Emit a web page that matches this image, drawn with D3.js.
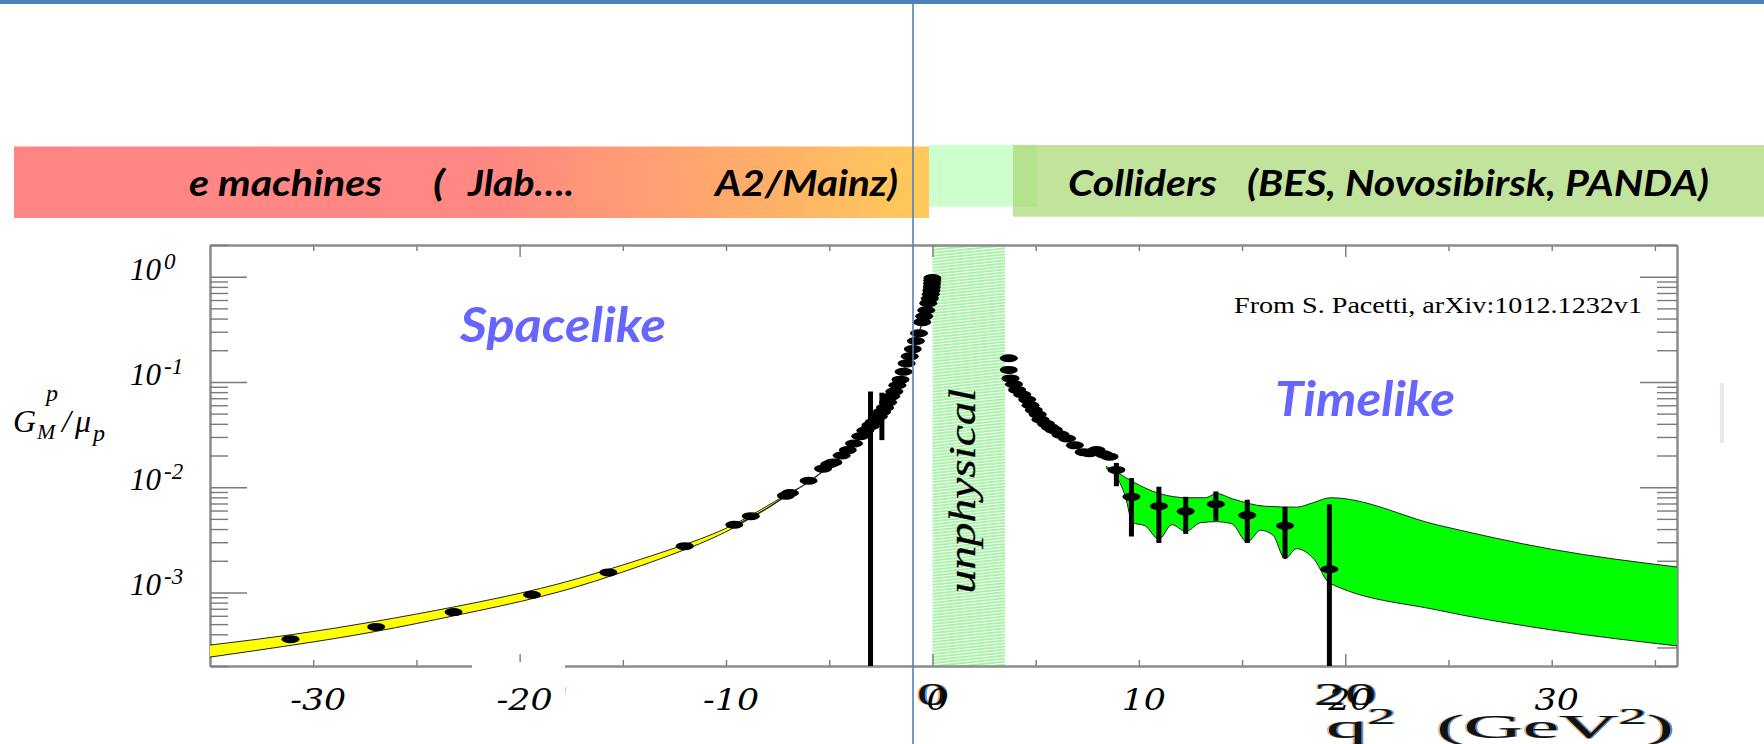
<!DOCTYPE html>
<html>
<head>
<meta charset="utf-8">
<script src="https://cdn.jsdelivr.net/npm/d3@7"></script>
<style>
  html, body { margin: 0; padding: 0; background: #fff; }
  svg { display: block; }
</style>
</head>
<body>
<svg id="chart" width="1764" height="744"></svg>
<script>
// ---------------- data ----------------
// x axis (q^2 in GeV^2)
const xTickValues = [-35, -30, -25, -20, -15, -10, -5, 0, 5, 10, 15, 20, 25, 30, 35];
const xMajorTickValues = [-20, 0, 20];
const xLabelValues = [-30, -20, -10, 0, 10, 20, 30];
const xLabelTexts = ["-30", "-20", "-10", "0", "10", "20", "30"];
const xPlotLabelValues = [0, 20];
const xPlotLabelTexts = ["0", "20"];
// y axis decades (G_M^p / mu_p)
const yDecadeValues = [1, 0.1, 0.01, 0.001];
const yDecadeExponents = ["0", "-1", "-2", "-3"];
// unphysical region 0 < q^2 < 4 M_p^2
const unphysicalRange = [0, 3.52];

// spacelike fit band (yellow)
const spaceBandQ2 = [-35, -31, -27, -23, -19, -15.5, -12, -9.5, -7];
const spaceBandHi = [3.16e-4, 3.98e-4, 5.3e-4, 7.4e-4, 1.09e-3, 1.7e-3, 2.85e-3, 4.55e-3, 8.7e-3];
const spaceBandLo = [2.43e-4, 3.16e-4, 4.25e-4, 6.1e-4, 9.1e-4, 1.45e-3, 2.55e-3, 4.25e-3, 8.4e-3];
// spacelike central fit
const spaceFitQ2 = [-9.5, -8, -7, -6, -5, -4, -3, -2.5, -2, -1.5, -1, -0.6, -0.3, -0.1, 0];
const spaceFitG = [4.4e-3, 6.31e-3, 8.51e-3, 1.12e-2, 1.58e-2, 2.29e-2, 3.72e-2, 5.01e-2, 7.41e-2, 0.115, 0.200, 0.316, 0.501, 0.708, 1.0];
// spacelike measurements
const spaceQ2 = [-31.1, -26.95, -23.2, -19.4, -15.7, -12.0, -9.6, -8.8, -7.1, -6.9, -6.0, -5.3, -5.0, -4.8, -4.4, -4.1,
  -3.8, -3.5, -3.25, -3.0, -2.85, -2.6, -2.45, -2.3, -2.15, -2.0, -1.85, -1.7, -1.55, -1.4, -1.25, -1.1, -0.95, -0.8,
  -0.65, -0.5, -0.4, -0.3, -0.2, -0.13, -0.08, -0.05, -0.03, -0.02, -0.01, -0.005];
const spaceG = [3.6e-4, 4.7e-4, 6.5e-4, 9.5e-4, 1.55e-3, 2.75e-3, 4.4e-3, 5.3e-3, 8.3e-3, 8.8e-3, 1.15e-2, 1.5e-2, 1.65e-2,
  1.72e-2, 2.0e-2, 2.25e-2, 2.6e-2, 3.05e-2, 3.45e-2, 3.8e-2, 4.15e-2, 4.7e-2, 5.2e-2, 5.7e-2, 6.4e-2, 7.3e-2, 8.1e-2,
  9.3e-2, 0.105, 0.125, 0.150, 0.175, 0.205, 0.245, 0.29, 0.37, 0.42, 0.48, 0.56, 0.62, 0.68, 0.74, 0.80, 0.86, 0.92, 0.97];
// spacelike points with large errors
const spaceErrQ2 = [-3.0, -2.45];
const spaceErrG = [3.9e-2, 5.2e-2];
const spaceErrHi = [8.1e-2, 7.9e-2];
const spaceErrLo = [1e-5, 2.8e-2];

// timelike measurements near threshold
const timeQ2 = [3.70, 3.70, 3.78, 3.95, 4.10, 4.35, 4.59, 4.75, 4.91, 5.10, 5.23, 5.50, 5.70, 5.88, 6.2, 6.52, 6.9, 7.33,
  7.6, 7.95, 8.3, 8.58];
const timeG = [0.168, 0.130, 0.108, 0.095, 0.084, 0.076, 0.068, 0.060, 0.054, 0.049, 0.044, 0.040, 0.037, 0.035, 0.0316,
  0.029, 0.025, 0.0215, 0.021, 0.0225, 0.0205, 0.0195];
// timelike measurements with error bars
const timeErrQ2 = [8.91, 9.64, 10.97, 12.27, 13.73, 15.25, 17.08, 19.23];
const timeErrG = [0.0146, 8.1e-3, 6.6e-3, 5.9e-3, 6.9e-3, 5.4e-3, 4.3e-3, 1.66e-3];
const timeErrHi = [0.017, 0.0122, 0.0101, 8.1e-3, 9.1e-3, 7.6e-3, 6.5e-3, 6.9e-3];
const timeErrLo = [0.0102, 3.4e-3, 2.95e-3, 3.6e-3, 4.8e-3, 2.95e-3, 2.1e-3, 1e-5];
// timelike fit band (green)
const timeBandUpQ2 = [8.4, 9.0, 9.69, 11.0, 12.34, 13.22, 13.76, 14.53, 16.09, 17.64, 18.41, 19.28, 24.47, 30.0, 36.1];
const timeBandUp = [0.0158, 0.0136, 0.0113, 8.7e-3, 7.94e-3, 7.94e-3, 8.7e-3, 7.76e-3, 6.6e-3, 6.46e-3, 7.08e-3, 7.94e-3,
  4.37e-3, 2.57e-3, 1.74e-3];
const timeBandLoQ2 = [8.4, 9.0, 9.35, 9.69, 10.3, 10.97, 11.6, 12.27, 13.0, 13.73, 14.5, 15.25, 15.9, 16.5, 17.08, 17.64,
  18.5, 19.23, 24.47, 30.0, 36.1];
const timeBandLo = [0.0151, 0.0118, 8.1e-3, 4.6e-3, 4.3e-3, 3.2e-3, 4.4e-3, 3.8e-3, 4.6e-3, 4.7e-3, 4.5e-3, 3.0e-3, 3.9e-3,
  3.5e-3, 2.1e-3, 2.6e-3, 2.05e-3, 1.23e-3, 6.8e-4, 4.4e-4, 3.1e-4];

// ---------------- drawing ----------------
const svg = d3.select("#chart");
const W = 1764, H = 744;
const plot = { left: 210, right: 1677, top: 245, bottom: 666 };

const x = d3.scaleLinear().domain([-35, 36.07]).range([plot.left, plot.right]);
const y = d3.scaleLog().domain([2e-4, 2]).range([plot.bottom, plot.top]);

const defs = svg.append("defs");
defs.append("clipPath").attr("id", "plotClip")
  .append("rect").attr("x", plot.left).attr("y", plot.top)
  .attr("width", plot.right - plot.left).attr("height", plot.bottom - plot.top);

const grad = defs.append("linearGradient").attr("id", "redBand")
  .attr("gradientUnits", "userSpaceOnUse").attr("x1", 14).attr("x2", 929).attr("y1", 0).attr("y2", 0);
[[0, "#FF8585"], [0.53, "#FF8882"], [0.675, "#FF9C75"], [0.83, "#FFB068"], [0.97, "#FFC75C"], [1, "#FFCA5A"]]
  .forEach(([o, c]) => grad.append("stop").attr("offset", o).attr("stop-color", c));

const hatch = defs.append("pattern").attr("id", "hatch").attr("patternUnits", "userSpaceOnUse")
  .attr("width", 40).attr("height", 3).attr("patternTransform", "rotate(-6)");
hatch.append("line").attr("x1", 0).attr("x2", 40).attr("y1", 1).attr("y2", 1)
  .attr("stroke", "#4FEA4F").attr("stroke-width", 1.2);

svg.append("rect").attr("width", W).attr("height", H).attr("fill", "#fff");

// slide header rule
svg.append("rect").attr("x", 0).attr("y", 0).attr("width", W).attr("height", 4).attr("fill", "#4F81BD");

// header bands
svg.append("rect").attr("x", 14).attr("y", 146.5).attr("width", 915).attr("height", 71.5).attr("fill", "url(#redBand)");
svg.append("rect").attr("x", 929).attr("y", 145).attr("width", 108).attr("height", 61.7).attr("fill", "#CCFFCC");
svg.append("rect").attr("x", 1013).attr("y", 145).attr("width", W - 1013).attr("height", 71.7)
  .attr("fill", "rgb(168,215,112)").attr("fill-opacity", 0.7);

const headFont = "Lato, 'Open Sans', sans-serif";
function headText(str, x0, len) {
  svg.append("text").attr("x", x0).attr("y", 196).text(str)
    .attr("font-family", headFont).attr("font-weight", 700).attr("font-style", "italic")
    .attr("font-size", 36).attr("fill", "#000")
    .attr("textLength", len).attr("lengthAdjust", "spacingAndGlyphs");
}
headText("e machines", 189, 193);
headText("(", 433, 12);
headText("Jlab….", 468, 106);
headText("A2/Mainz)", 715, 183);
headText("Colliders", 1068, 149);
headText("(BES, Novosibirsk, PANDA)", 1247, 462);

// unphysical region
svg.append("rect")
  .attr("x", x(unphysicalRange[0])).attr("y", plot.top)
  .attr("width", x(unphysicalRange[1]) - x(unphysicalRange[0])).attr("height", plot.bottom - plot.top)
  .attr("fill", "url(#hatch)");

// axes
const frameColor = "#8c8c8c";
const majorY = yDecadeValues.concat([]);
const minorY = y.ticks().filter(v => {
  const m = v / Math.pow(10, Math.floor(Math.log10(v) + 1e-9));
  return Math.abs(m - 1) > 1e-6;
});
function styleAxis(g) {
  g.selectAll(".domain").attr("stroke", frameColor).attr("stroke-width", 2);
  g.selectAll(".tick line").attr("stroke", "#7a7a7a").attr("stroke-width", 1.4);
  g.selectAll(".tick text").remove();
}
const xMinor = xTickValues.filter(v => !xMajorTickValues.includes(v));
svg.append("g").attr("transform", `translate(0,${plot.bottom})`)
  .call(d3.axisBottom(x).tickValues(xMinor).tickSize(-6).tickSizeOuter(0).tickFormat("")).call(styleAxis);
svg.append("g").attr("transform", `translate(0,${plot.bottom})`)
  .call(d3.axisBottom(x).tickValues(xMajorTickValues).tickSize(-12).tickSizeOuter(0).tickFormat("")).call(styleAxis);
svg.append("g").attr("transform", `translate(0,${plot.top})`)
  .call(d3.axisTop(x).tickValues(xMinor).tickSize(-6).tickSizeOuter(0).tickFormat("")).call(styleAxis);
svg.append("g").attr("transform", `translate(0,${plot.top})`)
  .call(d3.axisTop(x).tickValues(xMajorTickValues).tickSize(-12).tickSizeOuter(0).tickFormat("")).call(styleAxis);
svg.append("g").attr("transform", `translate(${plot.left},0)`)
  .call(d3.axisLeft(y).tickValues(majorY).tickSize(-37).tickSizeOuter(0).tickFormat("")).call(styleAxis);
svg.append("g").attr("transform", `translate(${plot.left},0)`)
  .call(d3.axisLeft(y).tickValues(minorY).tickSize(-18).tickSizeOuter(0).tickFormat("")).call(styleAxis);
svg.append("g").attr("transform", `translate(${plot.right},0)`)
  .call(d3.axisRight(y).tickValues(majorY).tickSize(-37).tickSizeOuter(0).tickFormat("")).call(styleAxis);
svg.append("g").attr("transform", `translate(${plot.right},0)`)
  .call(d3.axisRight(y).tickValues(minorY).tickSize(-20).tickSizeOuter(0).tickFormat("")).call(styleAxis);

// data layer
const layer = svg.append("g").attr("clip-path", "url(#plotClip)");
const lineGen = d3.line().x(d => x(d[0])).y(d => y(d[1])).curve(d3.curveMonotoneX);
const smoothGen = d3.line().x(d => x(d[0])).y(d => y(d[1])).curve(d3.curveNatural);
const zip = (a, b) => a.map((v, i) => [v, b[i]]);

function bandPath(gen, upQ, upV, loQ, loV) {
  const upper = gen(zip(upQ, upV));
  const lowerRev = gen(zip(loQ, loV).reverse());
  return upper + "L" + lowerRev.slice(1) + "Z";
}

// spacelike band
layer.append("path")
  .attr("d", bandPath(smoothGen, spaceBandQ2, spaceBandHi, spaceBandQ2, spaceBandLo))
  .attr("fill", "#FFFF00").attr("stroke", "none");
[spaceBandHi, spaceBandLo].forEach(arr => layer.append("path")
  .attr("d", smoothGen(zip(spaceBandQ2, arr))).attr("fill", "none").attr("stroke", "#222").attr("stroke-width", 1));
layer.append("path").attr("d", lineGen(zip(spaceFitQ2, spaceFitG)))
  .attr("fill", "none").attr("stroke", "#222").attr("stroke-width", 1.2);

// timelike band
layer.append("path")
  .attr("d", bandPath(lineGen, timeBandUpQ2, timeBandUp, timeBandLoQ2, timeBandLo))
  .attr("fill", "#00FF00").attr("stroke", "none");
layer.append("path").attr("d", lineGen(zip(timeBandUpQ2, timeBandUp)))
  .attr("fill", "none").attr("stroke", "#222").attr("stroke-width", 1);
layer.append("path").attr("d", lineGen(zip(timeBandLoQ2, timeBandLo)))
  .attr("fill", "none").attr("stroke", "#222").attr("stroke-width", 1);

// error bars
function errBars(q, hi, lo) {
  layer.selectAll(null).data(q.map((v, i) => ({ q: v, hi: hi[i], lo: lo[i] }))).enter()
    .append("line")
    .attr("x1", d => x(d.q)).attr("x2", d => x(d.q))
    .attr("y1", d => y(d.hi)).attr("y2", d => y(d.lo))
    .attr("stroke", "#000").attr("stroke-width", 5);
}
errBars(spaceErrQ2, spaceErrHi, spaceErrLo);
errBars(timeErrQ2, timeErrHi, timeErrLo);

// markers
function markers(q, g) {
  layer.selectAll(null).data(zip(q, g)).enter().append("ellipse")
    .attr("cx", d => x(d[0])).attr("cy", d => y(d[1]))
    .attr("rx", 9).attr("ry", 4).attr("fill", "#000");
}
markers(spaceQ2, spaceG);
markers(spaceErrQ2, spaceErrG);
markers(timeQ2, timeG);
markers(timeErrQ2, timeErrG);

// annotations inside the frame
const serif = "'Liberation Serif', 'DejaVu Serif', serif";
const unphysX = x((unphysicalRange[0] + unphysicalRange[1]) / 2) + 6;
svg.append("text").attr("transform", `translate(${unphysX},491) rotate(-90)`)
  .attr("text-anchor", "middle").attr("font-family", serif)
  .attr("font-style", "italic").attr("font-size", 37).attr("fill", "#000")
  .attr("stroke", "#000").attr("stroke-width", 0.3)
  .attr("textLength", 205).attr("lengthAdjust", "spacingAndGlyphs").text("unphysical");

svg.append("text").attr("x", 460).attr("y", 342).text("Spacelike")
  .attr("font-family", headFont).attr("font-weight", 700).attr("font-style", "italic")
  .attr("font-size", 48).attr("fill", "#6666FF").attr("textLength", 206).attr("lengthAdjust", "spacingAndGlyphs");
svg.append("text").attr("x", 1275).attr("y", 416).text("Timelike")
  .attr("font-family", headFont).attr("font-weight", 700).attr("font-style", "italic")
  .attr("font-size", 48).attr("fill", "#6666FF").attr("textLength", 180).attr("lengthAdjust", "spacingAndGlyphs");

svg.append("text").attr("x", 1234).attr("y", 313).text("From S. Pacetti, arXiv:1012.1232v1")
  .attr("font-family", serif).attr("font-size", 23).attr("fill", "#000")
  .attr("textLength", 408).attr("lengthAdjust", "spacingAndGlyphs");

// y axis decade labels
yDecadeValues.forEach((v, i) => {
  const t = svg.append("text").attr("x", 130).attr("y", y(v) + 3)
    .attr("font-family", serif).attr("font-style", "italic").attr("font-size", 31).attr("fill", "#000");
  t.append("tspan").text("10");
  t.append("tspan").attr("dx", 3).attr("dy", -11).attr("font-size", 23).text(yDecadeExponents[i]);
});

// y axis title: G_M^p / mu_p
const ttl = svg.append("g").attr("font-family", serif).attr("font-style", "italic").attr("fill", "#000");
ttl.append("text").attr("x", 13).attr("y", 432).attr("font-size", 32).text("G");
ttl.append("text").attr("x", 37).attr("y", 439).attr("font-size", 22).text("M");
ttl.append("text").attr("x", 46).attr("y", 401).attr("font-size", 24).text("p");
ttl.append("text").attr("x", 62).attr("y", 432).attr("font-size", 32).text("/");
ttl.append("text").attr("x", 75).attr("y", 432).attr("font-size", 32).text("μ");
ttl.append("text").attr("x", 93).attr("y", 441).attr("font-size", 24).text("p");

// patch over the original -20 label
svg.append("rect").attr("x", 472).attr("y", 662).attr("width", 93).attr("height", 52).attr("fill", "#fff");
svg.append("line").attr("x1", 565.5).attr("x2", 565.5).attr("y1", 687).attr("y2", 694)
  .attr("stroke", "#9FE4F5").attr("stroke-width", 1);

// original plot labels (stretched upright serif with colour fringes)
function fringedText(str, cx, base, size, sx) {
  const g = svg.append("g").attr("transform", `translate(${cx},${base}) scale(${sx},1)`);
  [[-0.8, "#E39A4A", 0.8], [0.8, "#2F6FD0", 0.8], [0, "#111", 1]].forEach(([dx, c, o]) => {
    g.append("text").attr("x", dx).attr("text-anchor", "middle")
      .attr("font-family", serif).attr("font-size", size).attr("fill", c).attr("fill-opacity", o)
      .text(str);
  });
  return g;
}
xPlotLabelValues.forEach((v, i) => fringedText(xPlotLabelTexts[i], x(v), 705, 32, 1.95));

// x labels (italic overlay)
xLabelValues.forEach((v, i) => {
  svg.append("g").attr("transform", `translate(${x(v) + 5},710) scale(1.2,1)`)
    .append("text").attr("text-anchor", "middle")
    .attr("font-family", "'DejaVu Serif', serif").attr("font-style", "italic").attr("font-size", 29).attr("fill", "#000")
    .text(xLabelTexts[i]);
});

// x axis title q^2 (GeV^2)
const qt = svg.append("g").attr("class", "qtitle");
function qTitle(dx, color, op) {
  const t = qt.append("text").attr("x", dx).attr("y", 0).attr("font-family", serif).attr("font-size", 33)
    .attr("fill", color).attr("fill-opacity", op);
  t.append("tspan").text("q");
  t.append("tspan").attr("dy", -14).attr("font-size", 23).text("2");
  t.append("tspan").attr("dy", 14).text("\u00A0\u00A0(GeV");
  t.append("tspan").attr("dy", -14).attr("font-size", 23).text("2");
  t.append("tspan").attr("dy", 14).text(")");
  return t;
}
qTitle(-0.8, "#E39A4A", 0.8);
qTitle(0.8, "#2F6FD0", 0.8);
const qMain = qTitle(0, "#111", 1);
const qw = qMain.node().getBBox().width;
qt.attr("transform", `translate(1326,738) scale(${348 / qw},1)`);

// faint slide artefact at right
svg.append("rect").attr("x", 1720).attr("y", 383).attr("width", 4).attr("height", 60).attr("fill", "#ECE9E2");

// slide guide line
svg.append("line").attr("x1", 913).attr("x2", 913).attr("y1", 0).attr("y2", H)
  .attr("stroke", "#4F81BD").attr("stroke-width", 1.6);
</script>
</body>
</html>
